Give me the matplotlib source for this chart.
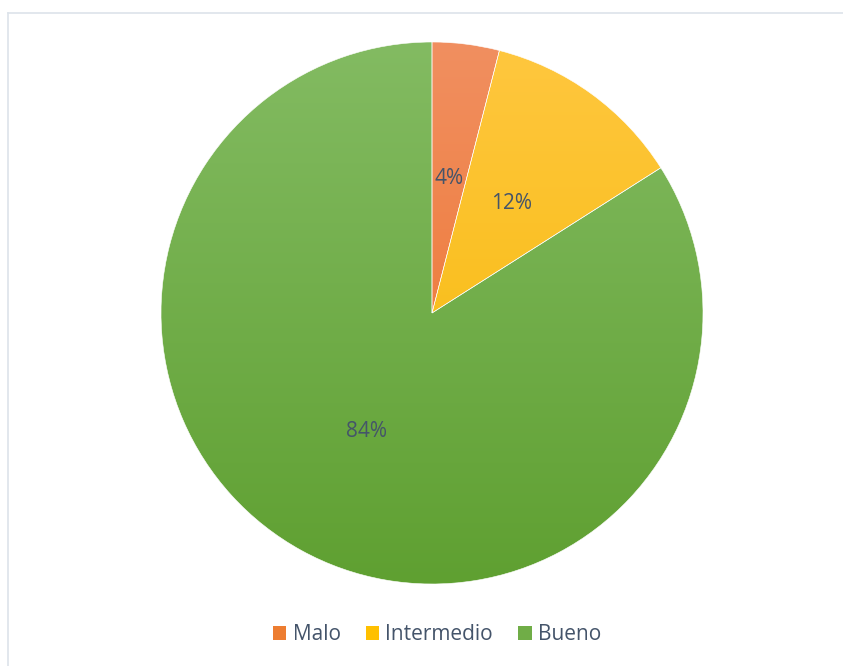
import numpy as np
import matplotlib
matplotlib.use('Agg')
import matplotlib.pyplot as plt
from matplotlib.patches import Patch
from matplotlib.colors import LinearSegmentedColormap

#%% data
categories = ['Malo', 'Intermedio', 'Bueno']
values = [4, 12, 84]
top_colors = ['#F18F60', '#FFC73F', '#83BB62']
bottom_colors = ['#EC6F24', '#F4B800', '#5FA031']
base_colors = ['#ED7D31', '#FFC000', '#70AD47']
text_color = '#44546A'

plt.rcParams['font.family'] = ['Open Sans', 'DejaVu Sans']

fig = plt.figure(figsize=(8.43, 6.66), dpi=100)
ax = fig.add_axes([0, 0, 1, 1])
ax.axis('off')

cx, cy, r = 432, 353, 271
wedges, texts, autotexts = ax.pie(values, colors=base_colors, startangle=90,
                                  counterclock=False, center=(cx, cy), radius=r,
                                  autopct='%1.0f%%', pctdistance=0.5,
                                  wedgeprops=dict(edgecolor='white', linewidth=0.4),
                                  textprops=dict(color=text_color, fontsize=15))
ax.set_xlim(0, 843)
ax.set_ylim(0, 666)
ax.set_aspect('auto')

# gradient fill for each slice
grad = np.linspace(0, 1, 256).reshape(-1, 1)
for w, c0, c1 in zip(wedges, top_colors, bottom_colors):
    cmap = LinearSegmentedColormap.from_list('g', [c0, c1])
    im = ax.imshow(grad, cmap=cmap, aspect='auto',
                   extent=[cx - r, cx + r, cy - r, cy + r], origin='upper', zorder=1.5)
    im.set_clip_path(w)
    w.set_zorder(2)
    w.set_facecolor('none')
for t in autotexts:
    t.set_zorder(3)

# frame lines (left and top only visible)
ax.plot([8, 8], [0, 653], color='#dde3ea', lw=1.2, zorder=0)
ax.plot([8, 843], [653, 653], color='#dde3ea', lw=1.2, zorder=0)

handles = [Patch(facecolor=c, edgecolor='none') for c in base_colors]
fig.legend(handles, categories, loc='center', bbox_to_anchor=(437 / 843, 1 - 635 / 666),
           ncol=3, frameon=False, fontsize=15, handlelength=0.65, handleheight=0.65,
           handletextpad=0.3, columnspacing=1.2, labelcolor=text_color)

fig.savefig('out.png', dpi=100)
